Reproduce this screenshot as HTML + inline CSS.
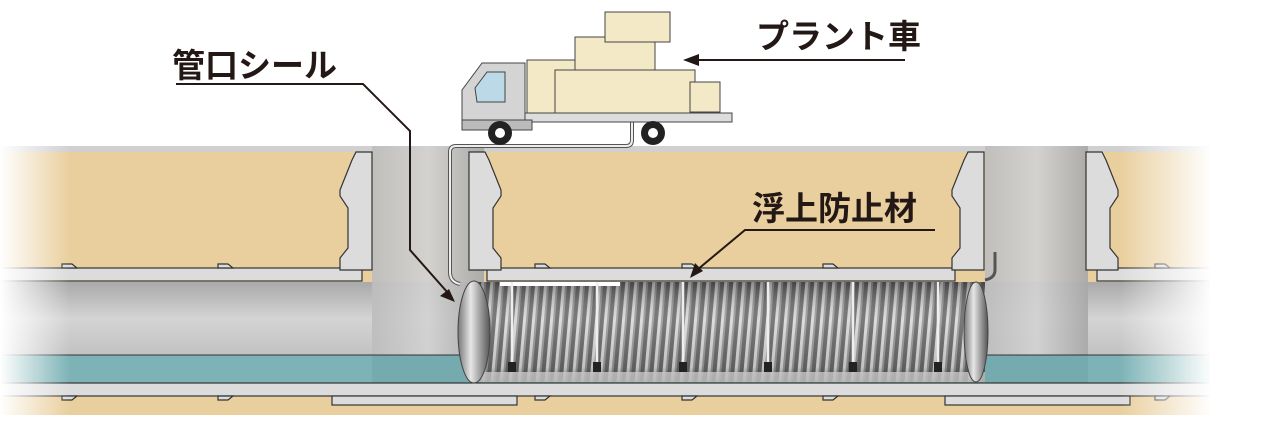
<!DOCTYPE html>
<html><head><meta charset="utf-8"><style>
html,body{margin:0;padding:0;background:#fff;}
svg{display:block;}
text{font-family:"Liberation Sans","Noto Sans CJK JP",sans-serif;font-weight:bold;fill:#231815;}
</style></head><body>
<svg width="1280" height="430" viewBox="0 0 1280 430" xmlns="http://www.w3.org/2000/svg">
<defs>
<linearGradient id="pipeIn" x1="0" y1="0" x2="0" y2="1">
<stop offset="0" stop-color="#a9a9a9"/><stop offset="0.5" stop-color="#d4d4d4"/><stop offset="1" stop-color="#c2c2c2"/></linearGradient>
<linearGradient id="shaft" x1="0" y1="0" x2="1" y2="0">
<stop offset="0" stop-color="#bdbdbd"/><stop offset="0.5" stop-color="#d2d2d2"/><stop offset="1" stop-color="#a8a8a8"/></linearGradient>
<pattern id="corr" width="9" height="110" patternUnits="userSpaceOnUse" patternTransform="skewX(-5)">
<rect width="9" height="110" fill="#6a6a6a"/><rect x="2" width="3" height="110" fill="#d8d8d8"/><rect x="5" width="2" height="110" fill="#9a9a9a"/></pattern>
<linearGradient id="tubeShade" x1="0" y1="0" x2="0" y2="1">
<stop offset="0" stop-color="#000" stop-opacity="0.35"/><stop offset="0.4" stop-color="#fff" stop-opacity="0.1"/><stop offset="0.85" stop-color="#000" stop-opacity="0.1"/><stop offset="1" stop-color="#000" stop-opacity="0.4"/></linearGradient>
<linearGradient id="ring" x1="0" y1="0" x2="1" y2="0">
<stop offset="0" stop-color="#777"/><stop offset="0.4" stop-color="#e6e6e6"/><stop offset="1" stop-color="#555"/></linearGradient>
<linearGradient id="fadeL" x1="0" y1="0" x2="1" y2="0">
<stop offset="0" stop-color="#fff" stop-opacity="1"/><stop offset="1" stop-color="#fff" stop-opacity="0"/></linearGradient>
<linearGradient id="fadeR" x1="0" y1="0" x2="1" y2="0">
<stop offset="0" stop-color="#fff" stop-opacity="0"/><stop offset="1" stop-color="#fff" stop-opacity="1"/></linearGradient>
</defs>

<rect x="0" y="146" width="1210" height="6" fill="#d0d0d0"/>
<rect x="0" y="152" width="1210" height="263" fill="#e9cf9e"/>
<rect x="0" y="282" width="1210" height="73" fill="url(#pipeIn)"/>
<rect x="0" y="355" width="1210" height="28" fill="#7db3b6"/>
<rect x="372" y="146" width="112" height="209" fill="url(#shaft)" opacity="0.92"/>
<rect x="985" y="146" width="103" height="209" fill="url(#shaft)" opacity="0.92"/>
<rect x="372" y="355" width="112" height="28" fill="#6fa4a8" opacity="0.6"/>
<rect x="985" y="355" width="103" height="28" fill="#6fa4a8" opacity="0.6"/>
<line x1="0" y1="355" x2="1210" y2="355" stroke="#333" stroke-width="1"/>
<g fill="#dcdcdc" stroke="#333" stroke-width="1.2">
<rect x="-2" y="268" width="364" height="13"/>
<rect x="487" y="268" width="468" height="13"/>
<rect x="1097" y="268" width="115" height="13"/>
<rect x="-2" y="383" width="1214" height="13"/>
<rect x="332" y="396" width="185" height="9"/>
<rect x="945" y="396" width="185" height="9"/>
<path d="M62 268 v-4 h10 l5 4z"/><path d="M218 268 v-4 h10 l5 4z"/><path d="M535 268 v-4 h10 l5 4z"/><path d="M682 268 v-4 h10 l5 4z"/><path d="M823 268 v-4 h10 l5 4z"/><path d="M1155 268 v-4 h10 l5 4z"/>
<path d="M62 396 v4 h10 l5 -4z"/><path d="M218 396 v4 h10 l5 -4z"/><path d="M535 396 v4 h10 l5 -4z"/><path d="M682 396 v4 h10 l5 -4z"/><path d="M823 396 v4 h10 l5 -4z"/><path d="M1155 396 v4 h10 l5 -4z"/>
<path d="M356 152 h16 v118 h-32 v-12 l8 -10 v-40 l-8 -12 v-6 l12 -30z"/>
<path d="M485 152 h-16 v118 h32 v-12 l-8 -10 v-40 l8 -12 v-6 l-12 -30z"/>
<path d="M968 152 h16 v118 h-32 v-12 l8 -10 v-40 l-8 -12 v-6 l12 -30z"/>
<path d="M1102 152 h-16 v118 h32 v-12 l-8 -10 v-40 l8 -12 v-6 l-12 -30z"/>
</g>
<rect x="475" y="282" width="510" height="100" fill="url(#corr)"/>
<rect x="475" y="282" width="510" height="100" fill="url(#tubeShade)"/>
<rect x="475" y="372" width="510" height="10" fill="#c8c8c8" opacity="0.8"/>
<ellipse cx="474" cy="332" rx="16" ry="51" fill="url(#ring)" stroke="#444"/>
<ellipse cx="976" cy="332" rx="12" ry="50" fill="url(#ring)" stroke="#444"/>
<rect x="500" y="282" width="120" height="4" fill="#fff"/>
<g stroke="#eee" stroke-width="2.5">
<line x1="512" y1="282" x2="512" y2="365"/><line x1="597" y1="282" x2="597" y2="365"/><line x1="683" y1="282" x2="683" y2="365"/><line x1="768" y1="282" x2="768" y2="365"/><line x1="853" y1="282" x2="853" y2="365"/><line x1="938" y1="282" x2="938" y2="365"/>
</g>
<g fill="#222"><rect x="508" y="362" width="8" height="10"/><rect x="593" y="362" width="8" height="10"/><rect x="679" y="362" width="8" height="10"/><rect x="764" y="362" width="8" height="10"/><rect x="849" y="362" width="8" height="10"/><rect x="934" y="362" width="8" height="10"/></g>
<path d="M632 115 v25 q0 6 -6 6 h-170 q-6 0 -6 6 v120 q0 10 10 12" fill="none" stroke="#555" stroke-width="4"/>
<path d="M632 115 v25 q0 6 -6 6 h-170 q-6 0 -6 6 v120 q0 10 10 12" fill="none" stroke="#eee" stroke-width="2"/>
<path d="M995 252 v18 q0 8 -10 10" fill="none" stroke="#555" stroke-width="3"/>
<rect x="0" y="140" width="70" height="280" fill="url(#fadeL)"/>
<rect x="1120" y="140" width="92" height="280" fill="url(#fadeR)"/>
<rect x="1210" y="140" width="70" height="280" fill="#fff"/>
<g stroke="#444" stroke-width="1">
<rect x="527" y="60" width="60" height="55" fill="#f3e9c6"/>
<rect x="575" y="37" width="80" height="45" fill="#f3e9c6"/>
<rect x="605" y="12" width="65" height="30" fill="#f3e9c6"/>
<rect x="555" y="70" width="140" height="45" fill="#f3e9c6"/>
<rect x="690" y="82" width="30" height="30" fill="#f3e9c6"/>
<rect x="520" y="113" width="212" height="9" fill="#ddd"/>
<path d="M462 130 v-40 l20 -27 h43 v67z" fill="#d4d4d4"/>
<path d="M475 88 l12 -16 h18 v30 h-28z" fill="#bcd9e8"/>
<rect x="462" y="120" width="70" height="10" fill="#bbb"/>
</g>
<circle cx="500" cy="133" r="12" fill="#222"/><circle cx="500" cy="133" r="5" fill="#fff"/>
<circle cx="653" cy="133" r="12" fill="#222"/><circle cx="653" cy="133" r="5" fill="#fff"/>
<text x="172" y="77" font-size="33">管口シール</text>
<polyline points="176,84 363,84 410,131 410,250 448,293" fill="none" stroke="#231815" stroke-width="2"/>
<path d="M455 302 l-15 -6 l9 -7z" fill="#231815"/>
<text x="756" y="48" font-size="33">プラント車</text>
<line x1="905" y1="60" x2="698" y2="60" stroke="#231815" stroke-width="2"/>
<path d="M683 60 l16 -6 v12z" fill="#231815"/>
<text x="752" y="220" font-size="33">浮上防止材</text>
<polyline points="935,230 745,230 697,270" fill="none" stroke="#231815" stroke-width="2"/>
<path d="M690 278 l5 -15 l8 8z" fill="#231815"/>
</svg>
</body></html>
